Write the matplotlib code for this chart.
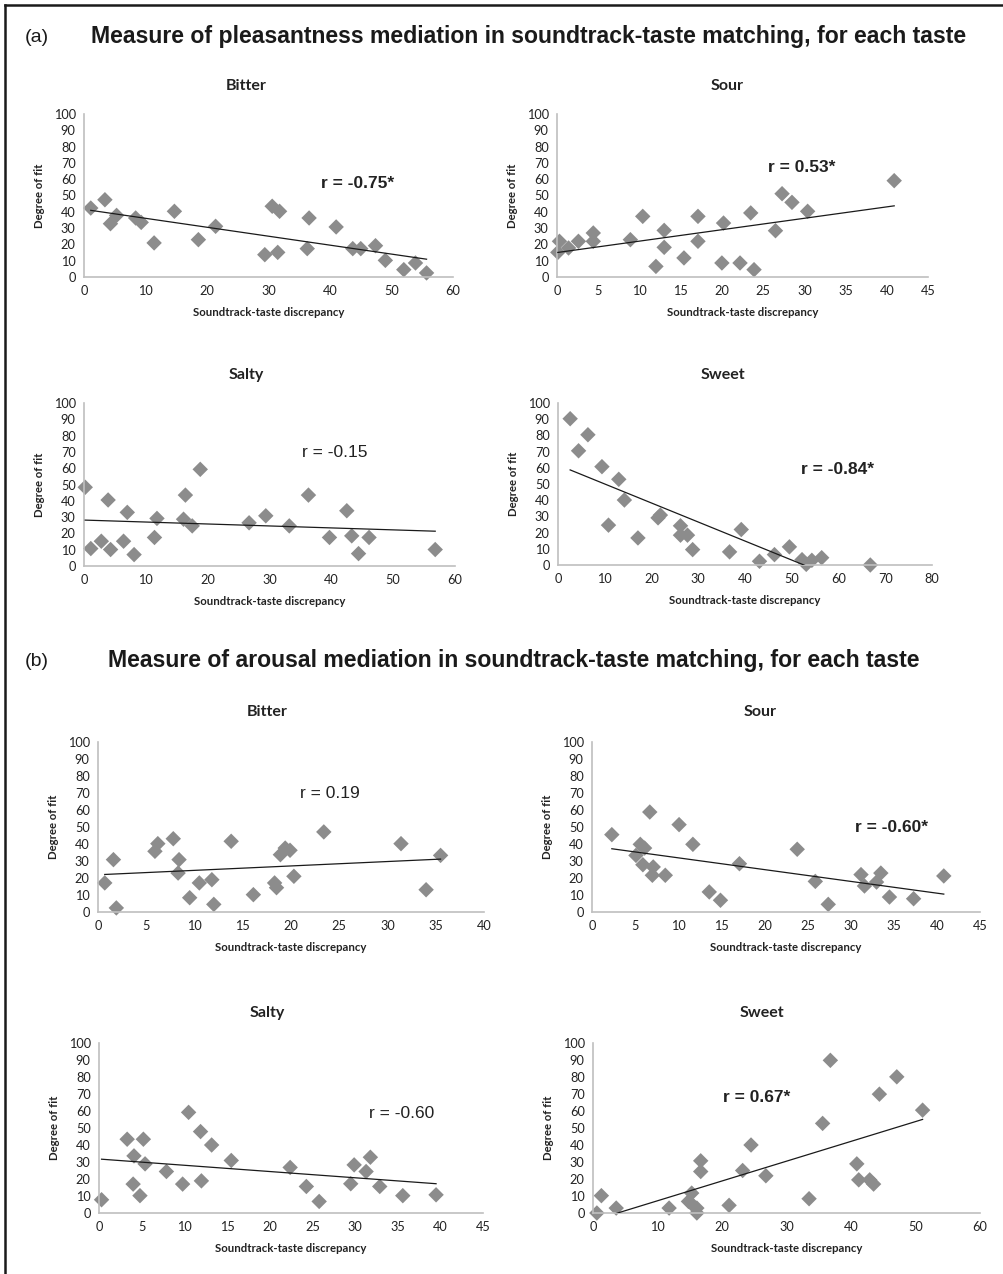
import numpy as np
import matplotlib
matplotlib.use("Agg")
import matplotlib.pyplot as plt
from matplotlib.lines import Line2D

W, H = 1004, 1274

# ---------------- data: (a) pleasantness ----------------
a_bitter_x = [1.1, 3.4, 4.3, 5.3, 8.4, 9.3, 11.4, 14.7, 18.6, 21.4, 29.4, 30.6, 31.5, 31.8,
              36.3, 36.6, 41.0, 43.7, 45.0, 47.4, 49.0, 52.0, 53.9, 55.7]
a_bitter_y = [42.3, 47.4, 32.7, 37.8, 36.2, 33.5, 20.9, 40.3, 22.9, 31.1, 13.7, 43.4, 15.1, 40.3,
              17.4, 36.2, 30.7, 17.4, 17.4, 19.2, 10.2, 4.5, 8.6, 2.5]

a_sour_x = [0.1, 0.3, 1.4, 2.6, 4.4, 4.4, 8.9, 10.4, 12.0, 13.0, 13.0, 15.4, 17.1, 17.1,
            20.2, 20.0, 22.2, 23.5, 23.9, 26.5, 27.3, 28.5, 30.4, 40.9]
a_sour_y = [15.1, 21.9, 17.8, 21.9, 27.0, 21.9, 22.9, 37.2, 6.5, 28.6, 18.2, 11.7, 37.2, 21.9,
            33.1, 8.6, 8.6, 39.3, 4.5, 28.4, 51.1, 45.8, 40.3, 59.1]

a_salty_x = [0.2, 1.1, 2.8, 3.9, 4.3, 6.4, 7.0, 8.1, 11.4, 11.8, 16.1, 16.4, 17.5, 18.8,
             26.7, 29.4, 33.2, 36.3, 39.7, 42.5, 43.3, 44.4, 46.1, 56.8]
a_salty_y = [48.3, 10.7, 15.2, 40.5, 10.1, 15.2, 32.9, 7.0, 17.5, 29.2, 28.7, 43.5, 24.6, 59.3,
             26.5, 30.8, 24.6, 43.5, 17.5, 33.9, 18.5, 7.6, 17.5, 10.1]

a_sweet_x = [2.6, 4.4, 6.4, 9.4, 10.8, 13.0, 14.2, 17.1, 21.4, 21.9, 26.2, 26.2, 27.7, 28.8,
             36.7, 39.2, 43.1, 46.3, 49.5, 52.2, 53.1, 54.3, 56.4, 66.8]
a_sweet_y = [90.3, 70.5, 80.4, 60.7, 24.6, 52.9, 40.1, 16.7, 29.1, 30.8, 24.2, 18.4, 18.4, 9.5,
             8.1, 21.9, 2.3, 6.4, 11.2, 3.3, 0.4, 2.9, 4.5, 0.0]

# ---------------- data: (b) arousal ----------------
b_bitter_x = [0.7, 1.6, 1.9, 5.9, 6.2, 7.8, 8.3, 8.4, 9.5, 10.5, 11.8, 12.0, 13.8, 16.1,
              18.3, 18.5, 18.9, 19.4, 19.9, 20.3, 23.4, 31.4, 34.0, 35.5]
b_bitter_y = [17.1, 30.8, 2.4, 35.7, 40.2, 43.1, 22.9, 30.8, 8.4, 17.1, 19.0, 4.5, 41.6, 10.2,
              17.1, 14.3, 33.7, 37.6, 36.3, 21.0, 47.1, 40.2, 13.1, 33.3]

b_sour_x = [2.3, 5.1, 5.6, 6.1, 5.9, 6.7, 7.1, 7.0, 8.5, 10.1, 11.7, 13.6, 14.9, 17.1,
            23.8, 25.9, 27.4, 31.2, 31.6, 33.0, 33.5, 34.5, 37.3, 40.8]
b_sour_y = [45.5, 33.3, 39.8, 37.6, 27.8, 58.8, 26.5, 21.6, 21.6, 51.4, 39.8, 11.8, 6.9, 28.4,
            36.9, 18.0, 4.5, 22.0, 15.3, 17.6, 22.9, 8.8, 7.8, 21.2]

b_salty_x = [0.3, 3.3, 4.1, 4.0, 4.8, 5.2, 5.4, 7.9, 9.8, 10.5, 11.9, 12.0, 13.2, 15.5,
             22.4, 24.3, 25.8, 29.5, 29.9, 31.3, 31.8, 32.9, 35.6, 39.5]
b_salty_y = [7.8, 43.4, 33.6, 17.0, 10.2, 43.4, 28.9, 24.4, 17.0, 59.2, 47.9, 18.9, 40.0, 30.9,
             26.8, 15.6, 6.8, 17.2, 28.3, 24.4, 32.8, 15.6, 10.2, 10.7]

b_sweet_x = [0.6, 1.3, 3.6, 11.8, 14.8, 15.3, 15.4, 16.1, 16.1, 16.7, 16.7, 21.1, 23.2, 24.5,
             26.8, 33.5, 35.6, 36.8, 40.9, 41.2, 42.9, 43.5, 44.4, 47.1, 51.1]
b_sweet_y = [0.0, 10.2, 2.9, 2.9, 6.8, 11.7, 4.9, 2.9, 0.0, 30.7, 24.4, 4.5, 25.0, 40.0,
             21.9, 8.4, 52.7, 89.8, 28.9, 19.5, 19.5, 17.0, 69.9, 80.1, 60.5]

tastes = ["Bitter", "Sour", "Salty", "Sweet"]
r_labels_a = ["r = -0.75*", "r = 0.53*", "r = -0.15", "r = -0.84*"]
r_labels_b = ["r = 0.19", "r = -0.60*", "r = -0.60", "r = 0.67*"]
title_a = "Measure of pleasantness mediation in soundtrack-taste matching, for each taste"
title_b = "Measure of arousal mediation in soundtrack-taste matching, for each taste"
xlabel = "Soundtrack-taste discrepancy"
ylabel = "Degree of fit"
y_ticks = list(range(0, 101, 10))

# ---------------- layout ----------------
fig = plt.figure(figsize=(W / 100, H / 100), dpi=100)
fig.patch.set_facecolor("white")

def px_axes(l, t, r, b):
    return fig.add_axes([l / W, 1 - b / H, (r - l) / W, (b - t) / H])

def fx(x):
    return x / W

def fy(y):
    return 1 - y / H

TICK_FONT = "Lato"
MARK = "#8c8c8c"
SPINE = "#bfbfbf"

panels = [
    (a_bitter_x, a_bitter_y, 60, 10, (84, 114, 453, 277), (246, 86), r_labels_a[0], (358, 184), True, tastes[0]),
    (a_sour_x, a_sour_y, 45, 5, (557, 114, 928, 277), (727, 86), r_labels_a[1], (802, 167), True, tastes[1]),
    (a_salty_x, a_salty_y, 60, 10, (84, 403, 455, 566), (246, 375), r_labels_a[2], (335, 453), False, tastes[2]),
    (a_sweet_x, a_sweet_y, 80, 10, (558, 403, 932, 565), (723, 375), r_labels_a[3], (838, 470), True, tastes[3]),
    (b_bitter_x, b_bitter_y, 40, 5, (98, 742, 484, 912), (267, 712), r_labels_b[0], (330, 794), False, tastes[0]),
    (b_sour_x, b_sour_y, 45, 5, (592, 742, 980, 912), (760, 712), r_labels_b[1], (892, 827), True, tastes[1]),
    (b_salty_x, b_salty_y, 45, 5, (99, 1043, 483, 1213), (267, 1013), r_labels_b[2], (402, 1114), False, tastes[2]),
    (b_sweet_x, b_sweet_y, 60, 10, (593, 1043, 980, 1213), (762, 1013), r_labels_b[3], (757, 1098), True, tastes[3]),
]

for xs, ys, xmax, xstep, rect, tpos, rlab, rpos, rbold, name in panels:
    ax = px_axes(*rect)
    xs = np.asarray(xs, float)
    ys = np.asarray(ys, float)
    ax.scatter(xs, ys, marker="D", s=62, color=MARK, edgecolors="none", zorder=2, clip_on=False)
    k, c = np.polyfit(xs, ys, 1)
    xl = np.array([xs.min(), xs.max()])
    ax.plot(xl, k * xl + c, color="#1a1a1a", lw=0.9, zorder=3)
    ax.set_xlim(0, xmax)
    ax.set_ylim(0, 100)
    ax.set_xticks(np.arange(0, xmax + 0.1, xstep))
    ax.set_yticks(y_ticks)
    ax.tick_params(length=0, labelsize=9.2, colors="#222222", pad=6)
    for lab in ax.get_xticklabels() + ax.get_yticklabels():
        lab.set_family(TICK_FONT)
    for s in ["top", "right"]:
        ax.spines[s].set_visible(False)
    for s in ["left", "bottom"]:
        ax.spines[s].set_color(SPINE)
        ax.spines[s].set_linewidth(1.2)
    ax.set_facecolor("none")
    ax.set_xlabel(xlabel, family=TICK_FONT, fontweight="bold", fontsize=8.2, labelpad=7, color="#222222")
    ax.set_ylabel(ylabel, family=TICK_FONT, fontweight="bold", fontsize=8.2, labelpad=6, color="#222222")
    fig.text(fx(tpos[0]), fy(tpos[1]), name, family=TICK_FONT, fontweight="bold", fontsize=11.5,
             ha="center", va="center", color="#222222")
    fig.text(fx(rpos[0]), fy(rpos[1]), rlab, family="Liberation Sans",
             fontweight="bold" if rbold else "normal", fontsize=12.5,
             ha="center", va="center", color="#222222")

# main titles
for lab, tit, x0, y in [("(a)", title_a, 91, 37), ("(b)", title_b, 108, 661)]:
    fig.text(fx(25), fy(y), lab, family="Liberation Sans", fontsize=14, ha="left", va="center", color="#1a1a1a")
    fig.text(fx(x0), fy(y), tit, family="Liberation Sans", fontweight="bold", fontsize=16.6,
             ha="left", va="center", color="#1a1a1a")

# frame (top and left edges)
fig.add_artist(Line2D([fx(5), 1], [fy(5), fy(5)], color="#1a1a1a", lw=1.8, transform=fig.transFigure))
fig.add_artist(Line2D([fx(5), fx(5)], [fy(5), 0], color="#1a1a1a", lw=1.8, transform=fig.transFigure))

fig.savefig("out.png", dpi=100, facecolor="white")
